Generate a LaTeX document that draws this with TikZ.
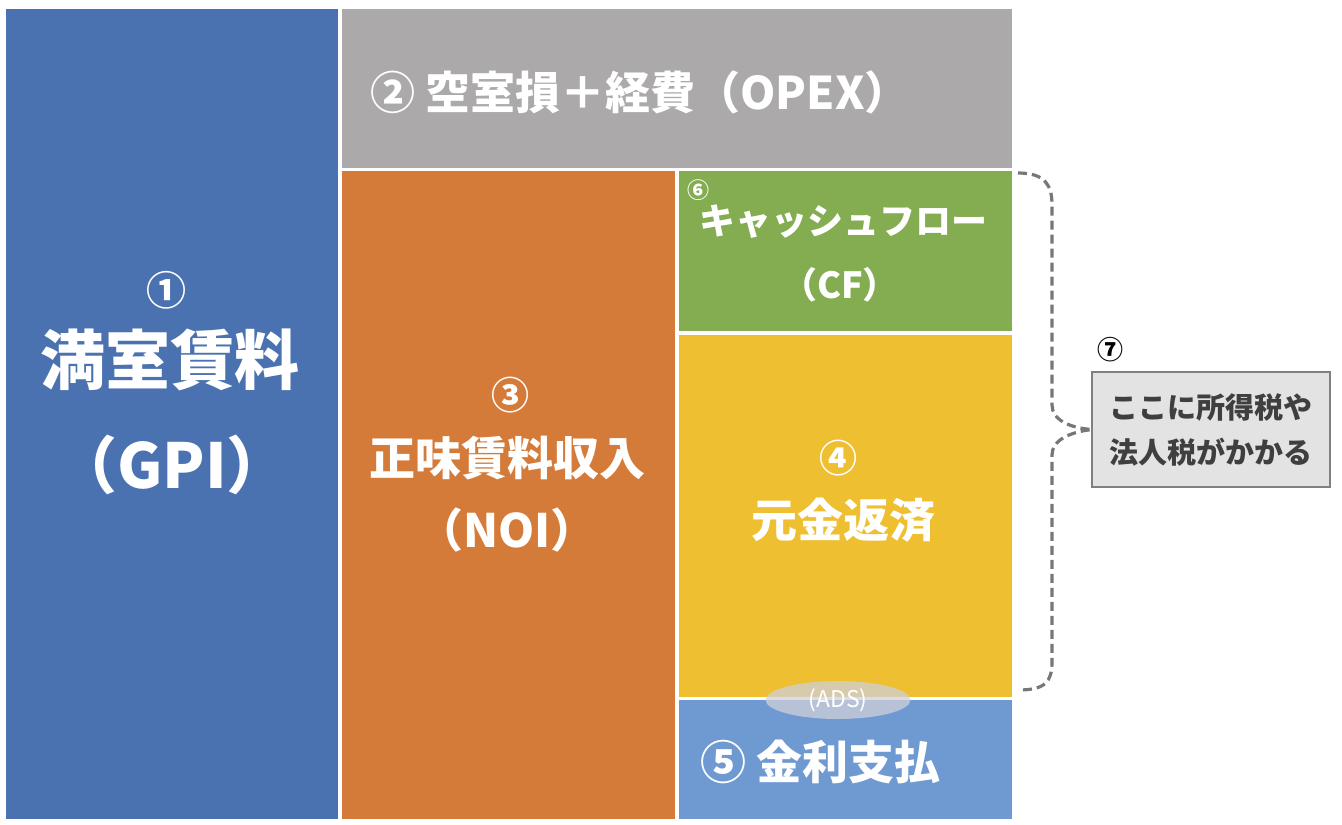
\documentclass[tikz,border=0pt]{standalone}
\usepackage{fontspec}
\newfontfamily\jpfont{Noto Sans CJK JP}
\usetikzlibrary{calc}
\usetikzlibrary{shapes.geometric}

\definecolor{gpiblue}{HTML}{4B72B0}
\definecolor{opexgray}{HTML}{ABA9AA}
\definecolor{noiorange}{HTML}{D57B3A}
\definecolor{cfgreen}{HTML}{84AC51}
\definecolor{prinyellow}{HTML}{EEBF30}
\definecolor{intblue}{HTML}{6F99D1}
\definecolor{bracegray}{HTML}{777777}
\definecolor{taxgray}{HTML}{E4E3E3}
\definecolor{taxtext}{HTML}{3F3F3F}
\definecolor{adsgray}{HTML}{D0D0D8}

\newcommand{\jpsize}[1]{\jpfont\bfseries\fontsize{#1}{#1}\selectfont}

\begin{document}
\begin{tikzpicture}[x=1pt,y=-1pt,
    block/.style={anchor=north west,inner sep=0pt,outer sep=0pt},
    wtxt/.style={text=white,inner sep=0pt},
    brace/.style={draw=bracegray,line width=3.2pt,dash pattern=on 9pt off 5pt}]
            \useasboundingbox (0,0) rectangle (1342,825);

            % blocks
            \node[block,fill=gpiblue,minimum width=332pt,minimum height=810pt] (gpi) at (6,9) {};
            \node[block,fill=opexgray,minimum width=670pt,minimum height=159pt] (opex) at (342,9) {};
            \node[block,fill=noiorange,minimum width=333pt,minimum height=648pt] (noi) at (342,171) {};
            \node[block,fill=cfgreen,minimum width=333pt,minimum height=160pt] (cf) at (679,171) {};
            \node[block,fill=prinyellow,minimum width=333pt,minimum height=362pt] (prin) at (679,335) {};
            \node[block,fill=intblue,minimum width=333pt,minimum height=119pt] (int) at (679,700) {};

            % texts
            \node[wtxt,font=\jpsize{40}] (n1) at (166,290) {①};
            \node[wtxt,font=\jpsize{65}] (gpit) at (170,360) {満室賃料};
            \node[wtxt,font=\jpsize{62}] (gpia) at (172,465) {（GPI）};

            \node[wtxt,font=\jpsize{45},anchor=west] (opext) at (370,92) {② 空室損＋経費（OPEX）};

            \node[wtxt,font=\jpsize{38}] (n3) at (510,395) {③};
            \node[wtxt,font=\jpsize{46}] (noit) at (507,458) {正味賃料収入};
            \node[wtxt,font=\jpsize{46}] (noia) at (507,530) {（NOI）};

            \node[wtxt,font=\jpsize{22}] (n6) at (698,190) {⑥};
            \node[wtxt,font=\jpsize{36}] (cft) at (843,222) {キャッシュフロー};
            \node[wtxt,font=\jpsize{36}] (cfa) at (840,285) {（CF）};

            \node[wtxt,font=\jpsize{38}] (n4) at (838,458) {④};
            \node[wtxt,font=\jpsize{46}] (print) at (843,520) {元金返済};

            \node[wtxt,font=\jpsize{46},anchor=west] (intt) at (700,762) {⑤ 金利支払};

            \node[ellipse,fill=adsgray,fill opacity=0.75,text opacity=1,text=white,
                  minimum width=145pt,minimum height=38pt,inner sep=0pt,
                  font=\jpfont\fontsize{23}{23}\selectfont] (ads) at (838,700) {(ADS)};

            % tax note
            \node[font=\jpsize{26}] (n7) at (1110,350) {⑦};
            \node[block,fill=taxgray,draw=gray,line width=1.5pt,minimum width=238pt,minimum height=115pt] (tax) at (1092,372) {};
            \node[text=taxtext,font=\jpsize{29},align=center] (taxt) at (tax.center) {ここに所得税や\\[16pt]法人税がかかる};

            \coordinate (bt) at ($(cf.north east)+(6,2)$);
            \coordinate (bb) at ($(prin.south east)+(6,-7)$);
            \draw[brace] (bt) .. controls (1045,173) and (1052,185) .. (1052,205) -- (1052,405)
                .. controls (1052,420) and (1070,428) .. (tax.west)
                .. controls (1070,432) and (1052,440) .. (1052,455) -- (1052,662)
                .. controls (1052,682) and (1045,690) .. (bb);
        \end{tikzpicture}
\end{document}
